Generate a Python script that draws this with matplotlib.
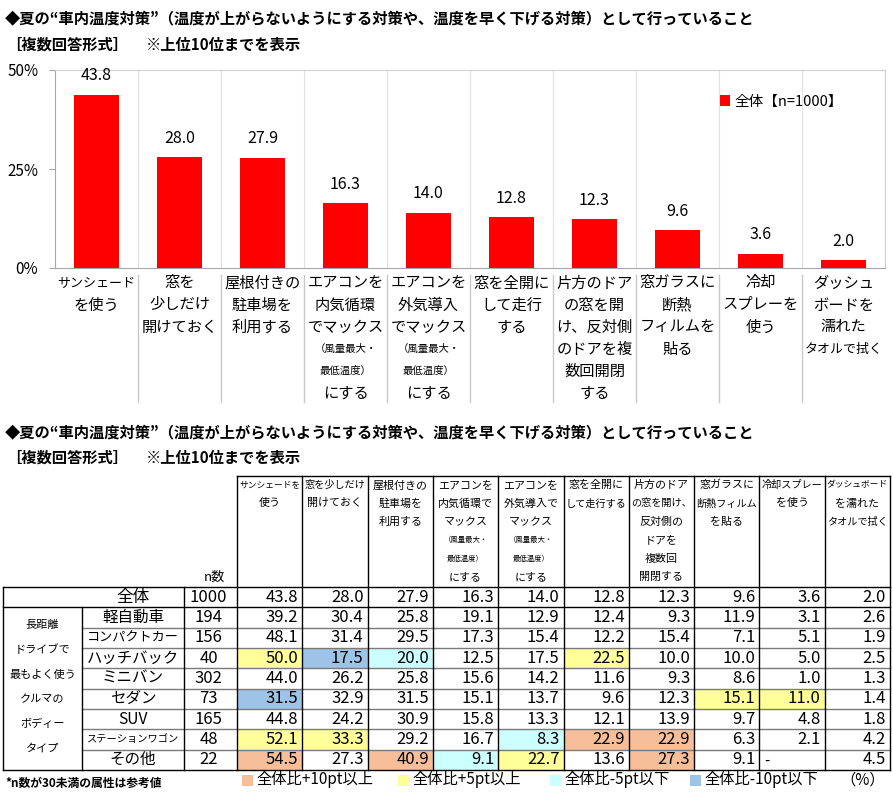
# 夏の車内温度対策: bar chart of the overall result plus a cross table by body type

import matplotlib.pyplot as plt
from matplotlib.patches import Rectangle
from matplotlib.transforms import blended_transform_factory

plt.rcParams['font.family'] = ['Noto Sans CJK JP', 'DejaVu Sans']

# ---- data ----
title = '◆夏の“車内温度対策”（温度が上がらないようにする対策や、温度を早く下げる対策）として行っていること'
sub_left = '［複数回答形式］'
sub_right = '※上位10位までを表示'

bar_labels = [
    'サンシェード\nを使う',
    '窓を\n少しだけ\n開けておく',
    '屋根付きの\n駐車場を\n利用する',
    'エアコンを\n内気循環\nでマックス\n（風量最大・\n最低温度）\nにする',
    'エアコンを\n外気導入\nでマックス\n（風量最大・\n最低温度）\nにする',
    '窓を全開に\nして走行\nする',
    '片方のドア\nの窓を開\nけ、反対側\nのドアを複\n数回開閉\nする',
    '窓ガラスに\n断熱\nフィルムを\n貼る',
    '冷却\nスプレーを\n使う',
    'ダッシュ\nボードを\n濡れた\nタオルで拭く',
]
legend_label = '全体【n=1000】'

table_headers = [
    'サンシェードを\n使う',
    '窓を少しだけ\n開けておく',
    '屋根付きの\n駐車場を\n利用する',
    'エアコンを\n内気循環で\nマックス\n（風量最大・\n最低温度）\nにする',
    'エアコンを\n外気導入で\nマックス\n（風量最大・\n最低温度）\nにする',
    '窓を全開に\nして走行する',
    '片方のドア\nの窓を開け、\n反対側の\nドアを\n複数回\n開閉する',
    '窓ガラスに\n断熱フィルム\nを貼る',
    '冷却スプレー\nを使う',
    'ダッシュボード\nを濡れた\nタオルで拭く',
]

overall_name = '全体'
overall_n = 1000
overall = [43.8, 28.0, 27.9, 16.3, 14.0, 12.8, 12.3, 9.6, 3.6, 2.0]

group_label = ['長距離', 'ドライブで', '最もよく使う', 'クルマの', 'ボディー', 'タイプ']
row_names = ['軽自動車', 'コンパクトカー', 'ハッチバック', 'ミニバン', 'セダン',
             'SUV', 'ステーションワゴン', 'その他']
row_n = [194, 156, 40, 302, 73, 165, 48, 22]
row_values = [
    [39.2, 30.4, 25.8, 19.1, 12.9, 12.4, 9.3, 11.9, 3.1, 2.6],
    [48.1, 31.4, 29.5, 17.3, 15.4, 12.2, 15.4, 7.1, 5.1, 1.9],
    [50.0, 17.5, 20.0, 12.5, 17.5, 22.5, 10.0, 10.0, 5.0, 2.5],
    [44.0, 26.2, 25.8, 15.6, 14.2, 11.6, 9.3, 8.6, 1.0, 1.3],
    [31.5, 32.9, 31.5, 15.1, 13.7, 9.6, 12.3, 15.1, 11.0, 1.4],
    [44.8, 24.2, 30.9, 15.8, 13.3, 12.1, 13.9, 9.7, 4.8, 1.8],
    [52.1, 33.3, 29.2, 16.7, 8.3, 22.9, 22.9, 6.3, 2.1, 4.2],
    [54.5, 27.3, 40.9, 9.1, 22.7, 13.6, 27.3, 9.1, None, 4.5],
]

footnote = '*n数が30未満の属性は参考値'
key_labels = ['全体比+10pt以上', '全体比+5pt以上', '全体比-5pt以下', '全体比-10pt以下']
key_colors = ['#F7BF99', '#FFFF99', '#CCFFFF', '#9DC3E6']


def cell_color(v, o):
    if v is None:
        return None
    d = round(v - o, 1)
    if d >= 10:
        return key_colors[0]
    if d >= 5:
        return key_colors[1]
    if d <= -10:
        return key_colors[3]
    if d <= -5:
        return key_colors[2]
    return None


def text_width(s):
    # rough width in em: full-width glyphs = 1, latin = 0.6
    return sum(1.0 if ord(c) > 0x2000 else 0.6 for c in s)


fig = plt.figure(figsize=(8.93, 8.0), dpi=100)

# pixel-space axes for titles and the table
tax = fig.add_axes([0, 0, 1, 1])
tax.set_xlim(0, 893)
tax.set_ylim(800, 0)
tax.axis('off')

# ---- titles ----
for ty in (18, 432):
    tax.text(5, ty, title, fontsize=11, fontweight='bold', va='center')
for ty in (45, 458):
    tax.text(6, ty, sub_left, fontsize=11, fontweight='bold', va='center')
    tax.text(146, ty, sub_right, fontsize=11, fontweight='bold', va='center')

# ---- bar chart ----
ax = fig.add_axes([55 / 893, 1 - 268 / 800, 830 / 893, 198 / 800])
ax.set_facecolor('none')
x = list(range(len(overall)))
ax.bar(x, overall, width=0.55, color='#FF0000', label=legend_label, zorder=3)
for i, v in enumerate(overall):
    ax.annotate(f'{v:.1f}', (i, v), xytext=(0, 13.5), textcoords='offset points',
                ha='center', va='center', fontsize=11.5)

ax.set_xlim(-0.5, len(overall) - 0.5)
ax.set_ylim(0, 50)
ax.set_yticks([0, 25, 50])
ax.set_yticklabels(['0%', '25%', '50%'], fontsize=11)
ax.tick_params(axis='y', direction='out', length=4, color='#A6A6A6', pad=8)
ax.set_xticks(x)
ax.set_xticklabels([])
ax.tick_params(axis='x', length=0)
ax.set_xticks([i + 0.5 for i in x[:-1]], minor=True)
ax.tick_params(axis='x', which='minor', length=0)
ax.grid(which='minor', axis='x', color='#E3E3E3', lw=0.9, zorder=0)
for side in ('top', 'right'):
    ax.spines[side].set_color('#D0D0D0')
ax.spines['left'].set_color('#A6A6A6')
ax.spines['bottom'].set_color('#A6A6A6')

ax.legend(loc='center left', bbox_to_anchor=(0.785, 0.84), frameon=False,
          fontsize=10.5, handlelength=0.7, handleheight=0.7, handletextpad=0.3)

# category labels below the axis, x from the bar axes, y in pixels
bt = blended_transform_factory(ax.transData, tax.transData)
for i, lab in enumerate(bar_labels):
    for k, line in enumerate(lab.split('\n')):
        small = '風量' in line or '最低温度' in line
        size = 7.5 if small else min(11, 78 / (1.389 * text_width(line)))
        ax.text(i, 283 + 22 * k, line, transform=bt, ha='center', va='center',
                fontsize=size)
for i in x[:-1]:
    ax.plot([i + 0.5, i + 0.5], [275, 402], transform=bt, color='#C8C8C8',
            lw=1, clip_on=False)

# ---- table ----
tbl_left, grp_right, name_right, n_right, tbl_right = 3, 82, 184, 237, 890
col_w = (tbl_right - n_right) / len(overall)
head_top, body_top, row_h = 476, 587, 20.33
n_rows = len(row_names) + 1
body_bottom = body_top + row_h * n_rows
col_edges = [n_right + j * col_w for j in range(len(overall) + 1)]


def row_top(r):
    return body_top + r * row_h


# cell fills
for r, vals in enumerate(row_values, start=1):
    for j, v in enumerate(vals):
        c = cell_color(v, overall[j])
        if c:
            tax.add_patch(Rectangle((col_edges[j], row_top(r)), col_w, row_h,
                                    facecolor=c, edgecolor='none', zorder=1))

# header text
for j, head in enumerate(table_headers):
    cx = col_edges[j] + col_w / 2
    for k, line in enumerate(head.split('\n')):
        small = '風量' in line or '最低温度' in line
        size = 5.3 if small else min(7.9, 61 / (1.389 * text_width(line)))
        tax.text(cx, 485 + 18.4 * k, line, ha='center', va='center', fontsize=size)
tax.text(214, 577, 'n数', ha='center', va='center', fontsize=9.5)

# body text
name_cx = (grp_right + name_right) / 2
n_cx = (name_right + n_right) / 2 - 2
all_names = [overall_name] + row_names
all_n = [overall_n] + row_n
all_vals = [overall] + row_values
for r in range(n_rows):
    cy = row_top(r) + row_h / 2
    nm = all_names[r]
    size = 12 if r == 0 else min(11.2, 92 / (1.389 * text_width(nm)))
    tax.text(name_cx, cy, nm, ha='center', va='center', fontsize=size, zorder=3)
    tax.text(n_cx, cy, str(all_n[r]), ha='center', va='center', fontsize=12, zorder=3)
    for j, v in enumerate(all_vals[r]):
        if v is None:
            tax.text(col_edges[j] + 5, cy, '-', ha='left', va='center',
                     fontsize=11, zorder=3)
        else:
            tax.text(col_edges[j + 1] - 4, cy, f'{v:.1f}', ha='right', va='center',
                     fontsize=12, zorder=3)

group_top = row_top(1)
for k, line in enumerate(group_label):
    tax.text((tbl_left + grp_right) / 2, group_top + 18 + 24.6 * k, line,
             ha='center', va='center', fontsize=8)

# grid lines
line_kw = dict(color='black', lw=1, zorder=4)
tax.plot([n_right, tbl_right], [head_top, head_top], **line_kw)
for ex in col_edges:
    tax.plot([ex, ex], [head_top, body_bottom], **line_kw)
tax.plot([name_right, name_right], [body_top, body_bottom], **line_kw)
tax.plot([grp_right, grp_right], [row_top(1), body_bottom], **line_kw)
tax.plot([tbl_left, tbl_left], [body_top, body_bottom], **line_kw)
tax.plot([tbl_left, tbl_right], [body_top, body_top], **line_kw)
tax.plot([tbl_left, tbl_right], [row_top(1), row_top(1)], **line_kw)
tax.plot([tbl_left, tbl_right], [body_bottom, body_bottom], **line_kw)
for r in range(2, n_rows):
    tax.plot([grp_right, tbl_right], [row_top(r), row_top(r)], color='#7A7A7A',
             lw=1, zorder=3.5)

# ---- footnote and colour key ----
tax.text(5, 783, footnote, fontsize=8.5, fontweight='bold', va='center')
key_x = [242, 398, 550, 690]
for kx, lab, c in zip(key_x, key_labels, key_colors):
    tax.add_patch(Rectangle((kx, 775), 11, 11, facecolor=c, edgecolor='none'))
    tax.text(kx + 14, 780, lab, fontsize=11, va='center')
tax.text(863, 780, '（%）', fontsize=11, ha='center', va='center')

fig.savefig('out.png', dpi=100)
